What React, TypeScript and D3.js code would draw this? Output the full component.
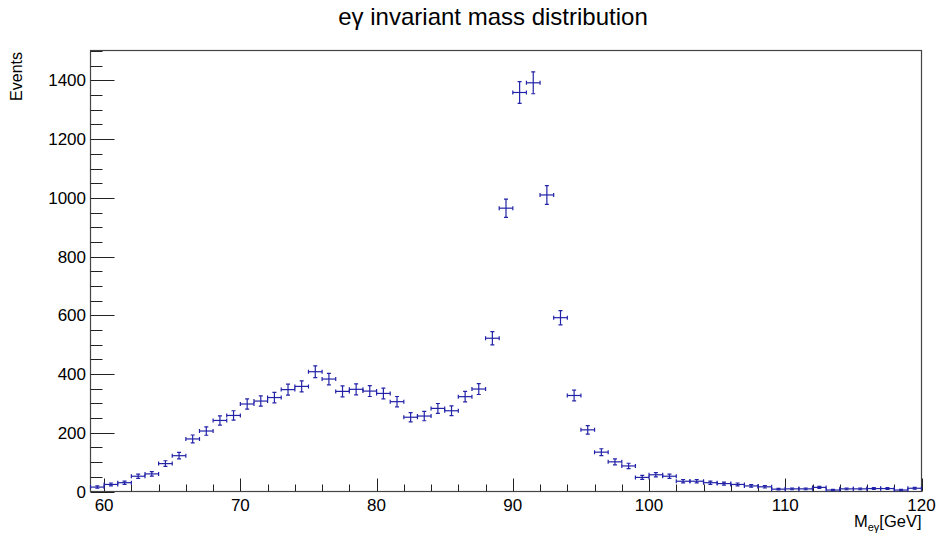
import React, { useEffect, useRef } from 'react'
import * as d3 from 'd3'

// histogram: 1 GeV bins from 59 to 120
const binLow = d3.range(59, 120)
const counts = [
  15, 24, 30, 52, 60, 95, 122, 179, 206, 242, 259, 298, 308, 320, 347, 358,
  408, 383, 341, 348, 342, 334, 306, 253, 257, 283, 275, 323, 349, 522, 965,
  1359, 1392, 1010, 592, 327, 210, 134, 101, 87, 48, 57, 52, 35, 35, 30, 27,
  24, 19, 16, 8, 9, 9, 14, 5, 9, 9, 10, 10, 5, 11,
]
const errors = [
  3.9, 4.9, 5.5, 7.2, 7.7, 9.7, 11.0, 13.4, 14.4, 15.6, 16.1, 17.3, 17.5, 17.9,
  18.6, 18.9, 20.2, 19.6, 18.5, 18.7, 18.5, 18.3, 17.5, 15.9, 16.0, 16.8, 16.6,
  18.0, 18.7, 22.8, 31.1, 36.9, 37.3, 31.8, 24.3, 18.1, 14.5, 11.6, 10.0, 9.3,
  6.9, 7.5, 7.2, 5.9, 5.9, 5.5, 5.2, 4.9, 4.4, 4.0, 2.8, 3.0, 3.0, 3.7, 2.2,
  3.0, 3.0, 3.2, 3.2, 2.2, 3.3,
]
const xTicks = [60, 70, 80, 90, 100, 110, 120]
const yTicks = [0, 200, 400, 600, 800, 1000, 1200, 1400]

const W = 941
const H = 538
const FONT = '"Liberation Sans", Arial, Helvetica, sans-serif'

const App = () => {
  const svgRef = useRef(null)

  useEffect(() => {
    document.body.style.margin = '0'
    const svg = d3.select(svgRef.current)
    svg.selectAll('*').remove()

    const left = 90.5
    const right = 921.5
    const top = 50.5
    const bottom = 491.5

    const x = d3.scaleLinear().domain([59, 120]).range([left, right])
    const y = d3.scaleLinear().domain([0, 1502]).range([bottom, top])

    // frame
    svg
      .append('rect')
      .attr('x', left)
      .attr('y', top)
      .attr('width', right - left)
      .attr('height', bottom - top)
      .attr('fill', 'none')
      .attr('stroke', '#444')
      .attr('stroke-width', 1.2)

    // y ticks (inside, from left axis)
    const yMinor = d3.range(0, 1501, 50)
    svg
      .append('g')
      .selectAll('line')
      .data(yMinor)
      .join('line')
      .attr('x1', left)
      .attr('x2', (d) => left + (d % 200 === 0 ? 24 : 12))
      .attr('y1', (d) => Math.round(y(d)) + 0.5)
      .attr('y2', (d) => Math.round(y(d)) + 0.5)
      .attr('stroke', '#222')
      .attr('stroke-width', 1)

    svg
      .append('g')
      .selectAll('text')
      .data(yTicks)
      .join('text')
      .attr('x', 86)
      .attr('y', (d) => y(d) + 6)
      .attr('text-anchor', 'end')
      .style('font-family', FONT)
      .style('font-size', '17px')
      .text((d) => d)

    // x ticks (inside, from bottom axis)
    const xMinor = d3.range(60, 121, 2)
    svg
      .append('g')
      .selectAll('line')
      .data(xMinor)
      .join('line')
      .attr('x1', (d) => Math.round(x(d)) + 0.5)
      .attr('x2', (d) => Math.round(x(d)) + 0.5)
      .attr('y1', bottom)
      .attr('y2', (d) => bottom - (d % 10 === 0 ? 13 : 7))
      .attr('stroke', '#222')
      .attr('stroke-width', 1)

    svg
      .append('g')
      .selectAll('text')
      .data(xTicks)
      .join('text')
      .attr('x', (d) => x(d))
      .attr('y', 511)
      .attr('text-anchor', 'middle')
      .style('font-family', FONT)
      .style('font-size', '17px')
      .text((d) => d)

    // error bars
    const color = '#2323a8'
    const cap = 2
    const pts = svg
      .append('g')
      .selectAll('g')
      .data(binLow)
      .join('g')
      .attr('stroke', color)
      .attr('stroke-width', 1.2)

    pts
      .append('line')
      .attr('x1', (d) => x(d))
      .attr('x2', (d) => x(d + 1))
      .attr('y1', (d, i) => y(counts[i]))
      .attr('y2', (d, i) => y(counts[i]))
    pts
      .append('line')
      .attr('x1', (d) => x(d + 0.5))
      .attr('x2', (d) => x(d + 0.5))
      .attr('y1', (d, i) => y(counts[i] - errors[i]))
      .attr('y2', (d, i) => y(counts[i] + errors[i]))
    // caps on vertical bar ends
    pts
      .append('path')
      .attr('d', (d, i) => {
        const cx = x(d + 0.5)
        const y1 = y(counts[i] - errors[i])
        const y2 = y(counts[i] + errors[i])
        return `M${cx - cap},${y1}H${cx + cap}M${cx - cap},${y2}H${cx + cap}`
      })
    // caps on horizontal bar ends
    pts
      .append('path')
      .attr('d', (d, i) => {
        const x1 = x(d)
        const x2 = x(d + 1)
        const cy = y(counts[i])
        return `M${x1},${cy - cap}V${cy + cap}M${x2},${cy - cap}V${cy + cap}`
      })

    // title
    svg
      .append('text')
      .attr('x', 493)
      .attr('y', 25)
      .attr('text-anchor', 'middle')
      .style('font-family', FONT)
      .style('font-size', '24px')
      .text('eγ invariant mass distribution')

    // y label
    svg
      .append('text')
      .attr('transform', 'translate(22,52) rotate(-90)')
      .attr('text-anchor', 'end')
      .style('font-family', FONT)
      .style('font-size', '16px')
      .text('Events')

    // x label
    const xl = svg
      .append('text')
      .attr('x', right)
      .attr('y', 527)
      .attr('text-anchor', 'end')
      .style('font-family', FONT)
      .style('font-size', '16.5px')
    xl.append('tspan').text('M')
    xl.append('tspan').attr('dy', 4).style('font-size', '11px').text('eγ')
    xl.append('tspan').attr('dy', -4).text('[GeV]')
  }, [])

  return (
    <svg
      ref={svgRef}
      width={W}
      height={H}
      style={{ position: 'absolute', left: 0, top: 0, background: '#fff' }}
    />
  )
}

export default App
